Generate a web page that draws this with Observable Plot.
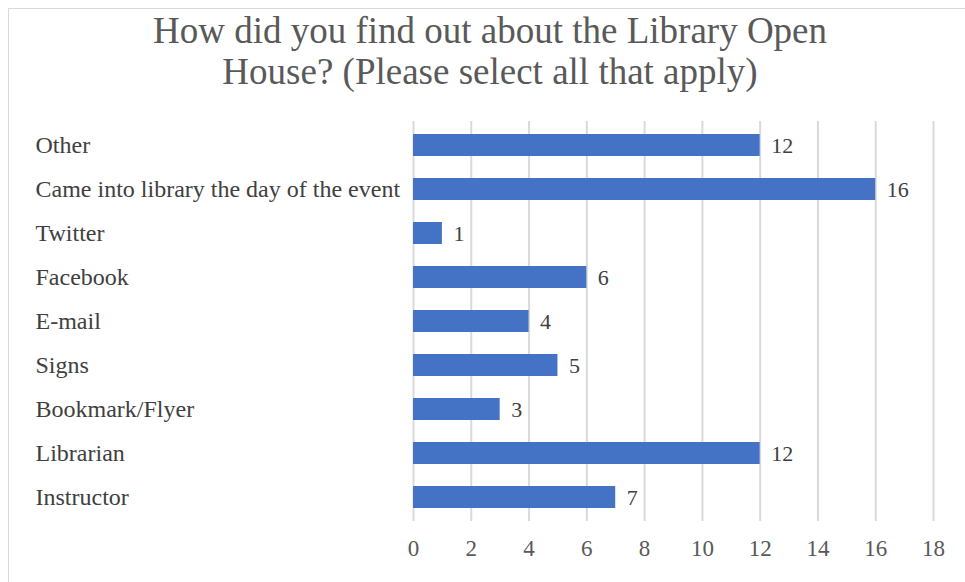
<!DOCTYPE html>
<html><head><meta charset="utf-8">
<script src="https://cdn.jsdelivr.net/npm/d3@7"></script>
<script src="https://cdn.jsdelivr.net/npm/@observablehq/plot@0.6"></script>
<style>
html,body{margin:0;padding:0;background:#fff;}
#wrap{position:relative;width:965px;height:582px;overflow:hidden;}
#frame{position:absolute;left:8px;top:8px;width:970px;height:590px;border:1px solid #d9d9d9;box-sizing:border-box;}
#title{position:absolute;left:0;top:10px;width:980px;text-align:center;font-family:"Liberation Serif",serif;font-size:37px;line-height:41px;color:#595959;}
#chart{position:absolute;left:0;top:0;}
</style></head>
<body><div id="wrap"><div id="frame"></div><div id="chart"></div><div id="title">How did you find out about the Library Open<br>House? (Please select all that apply)</div></div>
<script>
const categories = ["Other","Came into library the day of the event","Twitter","Facebook","E-mail","Signs","Bookmark/Flyer","Librarian","Instructor"];
const counts = [12,16,1,6,4,5,3,12,7];
const xTicks = [0,2,4,6,8,10,12,14,16,18];
const data = categories.map((c,i)=>({cat:c, n:counts[i]}));
const font = "Liberation Serif";
const chart = Plot.plot({
  width:965, height:582,
  marginLeft:413, marginRight:32, marginTop:121, marginBottom:61,
  style:{fontFamily:font, background:"transparent"},
  x:{domain:[0,18], ticks:xTicks},
  y:{domain:categories, paddingInner:0.5, paddingOuter:0.25},
  marks:[
    Plot.gridX(xTicks,{stroke:"#d9d9d9", strokeOpacity:1, strokeWidth:2}),
    Plot.barX(data,{x:"n", y:"cat", fill:"#4472c4"}),
    Plot.text(data,{x:"n", y:"cat", text:d=>String(d.n), textAnchor:"start", dx:11, fontSize:22, fill:"#404040"}),
    Plot.axisX({ticks:xTicks, tickSize:0, tickPadding:18, fontSize:23, color:"#595959", label:null}),
    Plot.axisY({tickSize:0, tickPadding:378, textAnchor:"start", fontSize:24, color:"#404040", label:null})
  ]
});
document.getElementById("chart").appendChild(chart);
</script></body></html>
